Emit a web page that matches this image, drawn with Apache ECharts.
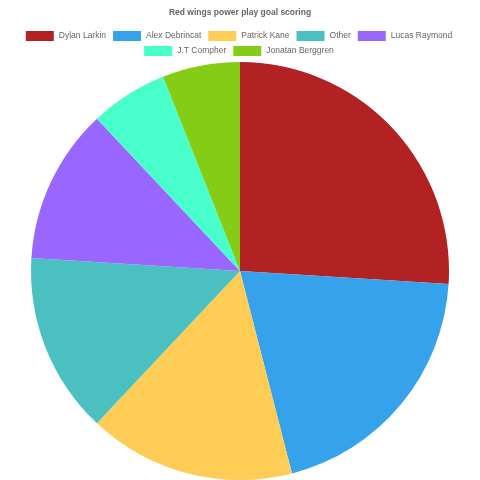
<!DOCTYPE html>
<html>
<head>
<meta charset="utf-8">
<script src="https://cdn.jsdelivr.net/npm/echarts@6/dist/echarts.min.js"></script>
<style>
	html, body { margin: 0; padding: 0; background: #fff; }
	#main { width: 480px; height: 480px; }
</style>
</head>
<body>
<div id="main"></div>
<script>
	var players = ['Dylan Larkin', 'Alex Debrincat', 'Patrick Kane', 'Other', 'Lucas Raymond', 'J.T Compher', 'Jonatan Berggren'];
	var goals = [13, 10, 8, 7, 6, 3, 3];
	var colors = ['#b22222', '#36a2eb', '#ffcd56', '#4bc0c0', '#9966ff', '#48ffcc', '#84cc16'];

	var pieData = [];
	for (var i = 0; i < players.length; i++) {
		pieData.push({value: goals[i], name: players[i]});
	}

	// two rows, each centred on its own
	function legendRow(names, top) {
		return {
			data: names,
			left: 'center',
			top: top,
			padding: 0,
			itemWidth: 28,
			itemHeight: 10,
			itemGap: 5,
			icon: 'rect',
			textStyle: {
				fontFamily: 'Liberation Sans',
				fontSize: 8.5,
				lineHeight: 8,
				padding: [0, 2, 0, 0],
				color: '#666'
			}
		};
	}

	var chart = echarts.init(document.getElementById('main'));
	chart.setOption({
		animation: false,
		color: colors,
		title: {
			text: 'Red wings power play goal scoring',
			left: 'center',
			top: 3,
			textStyle: {
				fontFamily: 'Liberation Sans',
				fontSize: 8.5,
				fontWeight: 'bold',
				color: '#666'
			}
		},
		legend: [
			legendRow(players.slice(0, 5), 31),
			legendRow(players.slice(5), 46)
		],
		series: [{
			name: 'Goals',
			type: 'pie',
			center: [240, 271],
			radius: 209,
			startAngle: 90,
			clockwise: true,
			label: {show: false},
			labelLine: {show: false},
			itemStyle: {borderWidth: 0},
			data: pieData
		}]
	});
</script>
</body>
</html>
